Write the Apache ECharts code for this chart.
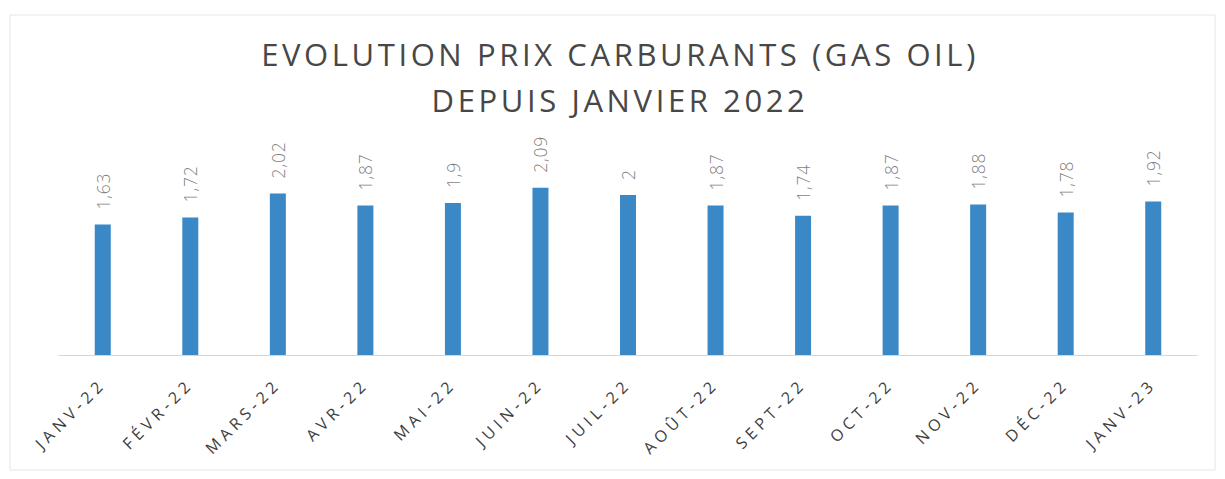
<!DOCTYPE html>
<html>
<head>
<meta charset="utf-8">
<script src="https://cdn.jsdelivr.net/npm/echarts@6/dist/echarts.min.js"></script>
<style>html,body{margin:0;padding:0;background:#fff;}#c{width:1225px;height:479px;}</style>
</head>
<body>
<div id="c"></div>
<script>
const titleLines = ['EVOLUTION PRIX CARBURANTS (GAS OIL)', 'DEPUIS JANVIER 2022'];
const categories = ['JANV-22','FÉVR-22','MARS-22','AVR-22','MAI-22','JUIN-22','JUIL-22','AOÛT-22','SEPT-22','OCT-22','NOV-22','DÉC-22','JANV-23'];
const prices = [1.63,1.72,2.02,1.87,1.9,2.09,2,1.87,1.74,1.87,1.88,1.78,1.92];

const chart = echarts.init(document.getElementById('c'), null, {renderer: 'svg'});
chart.setOption({
  animation: false,
  backgroundColor: '#ffffff',
  title: {
    text: titleLines.join('\n'),
    left: 615,
    textAlign: 'center',
    top: 26,
    textStyle: {
      fontFamily: 'Open Sans',
      fontSize: 31,
      fontWeight: 'normal',
      color: '#474747',
      lineHeight: 46
    }
  },
  graphic: [{
    type: 'rect',
    shape: {x: 10, y: 15, width: 1205, height: 455},
    style: {fill: 'none', stroke: '#e6e6e6', lineWidth: 1},
    silent: true
  }],
  grid: {left: 59, right: 28, top: 155, bottom: 124},
  xAxis: {
    type: 'category',
    data: categories,
    axisLine: {show: true, lineStyle: {color: '#d6d6d6', width: 1}},
    axisTick: {show: false},
    axisLabel: {
      rotate: 45,
      interval: 0,
      margin: 26,
      fontFamily: 'Open Sans',
      fontSize: 16,
      color: '#3d3d3d'
    }
  },
  yAxis: {
    type: 'value',
    min: 0,
    max: 2.5,
    show: false,
    splitLine: {show: false}
  },
  series: [{
    type: 'bar',
    data: prices,
    barWidth: 16,
    itemStyle: {color: '#3a89c6'},
    label: {
      show: true,
      position: 'top',
      rotate: 90,
      align: 'left',
      verticalAlign: 'middle',
      distance: 15,
      fontFamily: 'Open Sans',
      fontSize: 17.5,
      fontWeight: 300,
      color: '#7f7f7f',
      formatter: p => String(p.value).replace('.', ',')
    }
  }]
});

function applySpacing() {
  document.querySelectorAll('#c svg text').forEach(t => {
    const fs = parseFloat(getComputedStyle(t).fontSize);
    let ls = 0;
    if (fs >= 28) ls = 3.6;
    else if (fs === 16) ls = 4.6;
    else if (fs === 17.5) ls = 0.8;
    t.style.letterSpacing = ls + 'px';
  });
}
applySpacing();
chart.on('finished', applySpacing);
</script>
</body>
</html>
